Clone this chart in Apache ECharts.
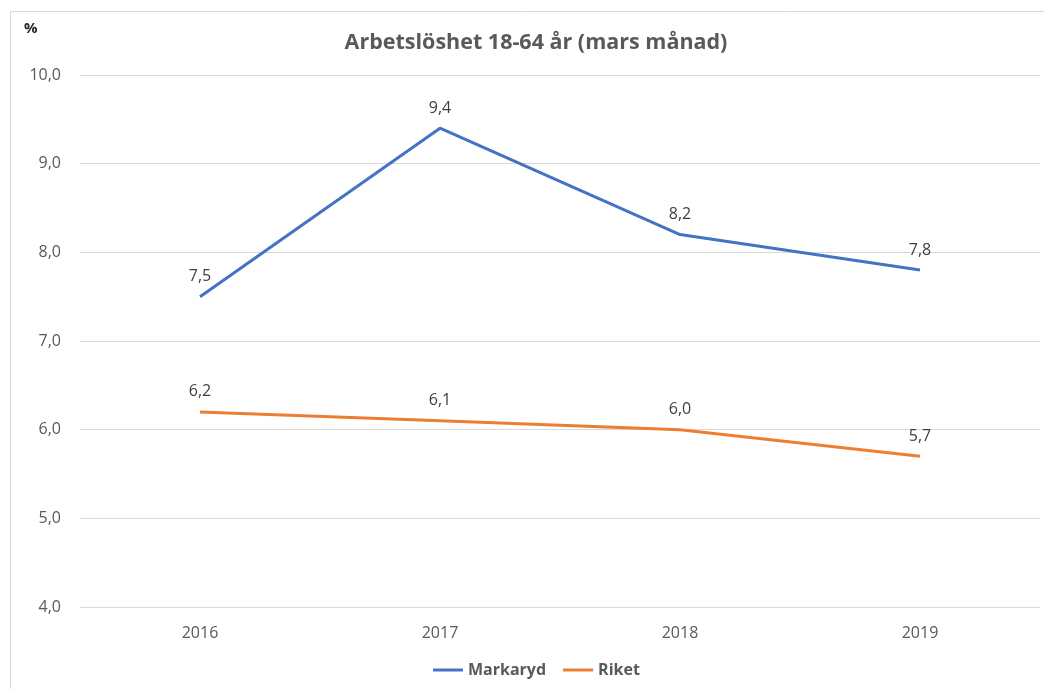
<!DOCTYPE html>
<html>
<head>
<meta charset="utf-8">
<script src="https://cdn.jsdelivr.net/npm/echarts@6/dist/echarts.min.js"></script>
<style>
  html, body { margin: 0; padding: 0; background: #fff; }
  #chart { width: 1044px; height: 689px; }
</style>
</head>
<body>
<div id="chart"></div>
<script>
  const years = ['2016', '2017', '2018', '2019'];
  const markaryd = [7.5, 9.4, 8.2, 7.8];
  const riket = [6.2, 6.1, 6.0, 5.7];

  const fmt = v => v.toFixed(1).replace('.', ',');

  let myChart = echarts.init(document.getElementById('chart'));
  myChart.setOption({
    animation: false,
    graphic: [{
      type: 'rect',
      shape: { x: 10.5, y: 11.5, width: 1040, height: 700 },
      style: { fill: 'none', stroke: '#d9d9d9', lineWidth: 1 },
      silent: true
    }, {
      type: 'text',
      left: 24,
      top: 21,
      style: { text: '%', font: 'bold 15px "Open Sans", sans-serif', fill: '#262626' }
    }],
    title: {
      text: 'Arbetslöshet 18-64 år (mars månad)',
      left: 531,
      textAlign: 'center',
      top: 27,
      textStyle: {
        fontFamily: '"Open Sans", sans-serif',
        fontSize: 21.5,
        fontWeight: 'bold',
        color: '#595959'
      }
    },
    legend: {
      bottom: 6,
      left: 428,
      itemWidth: 30,
      itemHeight: 3,
      itemGap: 17,
      icon: 'rect',
      textStyle: {
        fontFamily: '"Open Sans", sans-serif',
        fontSize: 16,
        fontWeight: 'bold',
        color: '#595959'
      }
    },
    grid: { left: 80, right: 4, top: 75, bottom: 82 },
    xAxis: {
      type: 'category',
      data: years,
      boundaryGap: true,
      axisLine: { show: false },
      axisTick: { show: false },
      axisLabel: {
        margin: 18,
        fontFamily: '"Open Sans", sans-serif',
        fontSize: 16,
        color: '#595959'
      }
    },
    yAxis: {
      type: 'value',
      min: 4,
      max: 10,
      interval: 1,
      axisLine: { show: false },
      axisTick: { show: false },
      splitLine: { lineStyle: { color: '#d9d9d9', width: 1 } },
      axisLabel: {
        margin: 19,
        formatter: v => fmt(v),
        fontFamily: '"Open Sans", sans-serif',
        fontSize: 16,
        color: '#595959'
      }
    },
    series: [{
      name: 'Markaryd',
      type: 'line',
      data: markaryd,
      symbol: 'circle',
      symbolSize: 0,
      showSymbol: true,
      color: '#4472C4',
      lineStyle: { width: 3, color: '#4472C4' },
      label: {
        show: true,
        position: 'top',
        distance: 12,
        formatter: p => fmt(p.value),
        fontFamily: '"Open Sans", sans-serif',
        fontSize: 16,
        color: '#404040'
      }
    }, {
      name: 'Riket',
      type: 'line',
      data: riket,
      symbol: 'circle',
      symbolSize: 0,
      showSymbol: true,
      color: '#ED7D31',
      lineStyle: { width: 3, color: '#ED7D31' },
      label: {
        show: true,
        position: 'top',
        distance: 12,
        formatter: p => fmt(p.value),
        fontFamily: '"Open Sans", sans-serif',
        fontSize: 16,
        color: '#404040'
      }
    }]
  });

  window.addEventListener('resize', () => {
    myChart.resize();
  });
</script>
</body>
</html>
